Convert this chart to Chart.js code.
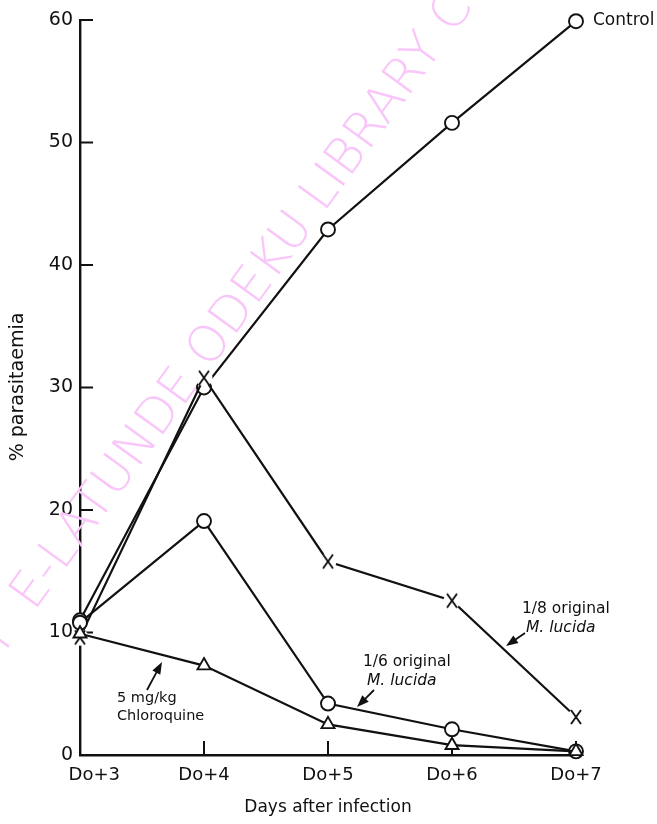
<!DOCTYPE html>
<html>
<head>
<meta charset="utf-8">
<script src="https://cdn.jsdelivr.net/npm/chart.js@4.4.1/dist/chart.umd.min.js"></script>
<style>
  html, body { margin: 0; padding: 0; background: #fff; }
  #wrap { width: 657px; height: 824px; }
</style>
</head>
<body>
<div id="wrap"><canvas id="chart" width="657" height="824"></canvas></div>
<script>
const days = ['Do+3', 'Do+4', 'Do+5', 'Do+6', 'Do+7'];
const control = [11.0, 30.0, 42.9, 51.6, 59.9];
const lucidaEighth = [9.6, 30.8, 15.8, 12.6, 3.1];
const lucidaSixth = [10.8, 19.1, 4.2, 2.1, 0.3];
const chloroquine = [9.9, 7.3, 2.5, 0.8, 0.3];
const yTicks = [0, 10, 20, 30, 40, 50, 60];

const FONT = '"DejaVu Sans", "Liberation Sans", sans-serif';

// X marker with a white halo so the line stops short of it
function makeCross() {
  const c = document.createElement('canvas');
  c.width = 18; c.height = 18;
  const g = c.getContext('2d');
  g.fillStyle = '#fff';
  g.beginPath(); g.arc(9, 9, 8.5, 0, Math.PI * 2); g.fill();
  g.strokeStyle = '#111'; g.lineWidth = 1.9;
  g.beginPath();
  g.moveTo(4, 2); g.lineTo(14, 16);
  g.moveTo(14, 2); g.lineTo(4, 16);
  g.stroke();
  return c;
}

function arrow(ctx, x1, y1, x2, y2) {
  const a = Math.atan2(y2 - y1, x2 - x1);
  ctx.beginPath();
  ctx.moveTo(x1, y1); ctx.lineTo(x2 - 8 * Math.cos(a), y2 - 8 * Math.sin(a));
  ctx.stroke();
  ctx.beginPath();
  ctx.moveTo(x2, y2);
  ctx.lineTo(x2 - 12 * Math.cos(a) + 4.5 * Math.sin(a), y2 - 12 * Math.sin(a) - 4.5 * Math.cos(a));
  ctx.lineTo(x2 - 12 * Math.cos(a) - 4.5 * Math.sin(a), y2 - 12 * Math.sin(a) + 4.5 * Math.cos(a));
  ctx.closePath();
  ctx.fill();
}

const decor = {
  id: 'decor',
  beforeDatasetsDraw(chart) {
    const ctx = chart.ctx;
    ctx.save();
    ctx.translate(34, 612);
    ctx.rotate(-54 * Math.PI / 180);
    ctx.fillStyle = '#f9c6f9';
    ctx.font = '300 50px ' + FONT;
    ctx.textBaseline = 'alphabetic';
    ctx.fillText('E-LATUNDE ODEKU LIBRARY COLLEGE', 0, 0);
    ctx.fillText('Y', -58, 0);
    ctx.restore();

    // inward tick marks
    const xs = chart.scales.x, ys = chart.scales.y;
    ctx.save();
    ctx.strokeStyle = '#111'; ctx.lineWidth = 2;
    ctx.beginPath();
    yTicks.slice(1).forEach(v => {
      const py = ys.getPixelForValue(v);
      ctx.moveTo(xs.left, py); ctx.lineTo(xs.left + 13, py);
    });
    days.slice(1).forEach((d, i) => {
      const px = xs.getPixelForValue(i + 1);
      ctx.moveTo(px, ys.bottom); ctx.lineTo(px, ys.bottom - 14);
    });
    ctx.stroke();
    ctx.restore();
  },
  afterDraw(chart) {
    const ctx = chart.ctx;
    ctx.save();
    ctx.fillStyle = '#111'; ctx.strokeStyle = '#111'; ctx.lineWidth = 1.8;
    ctx.textBaseline = 'middle';

    // axis titles
    ctx.font = '17px ' + FONT;
    ctx.textAlign = 'center';
    ctx.fillText('Days after infection', 328, 808);
    ctx.save();
    ctx.translate(18, 387);
    ctx.rotate(-Math.PI / 2);
    ctx.font = '19px ' + FONT;
    ctx.fillText('% parasitaemia', 0, 0);
    ctx.restore();

    // series labels
    ctx.textAlign = 'left';
    ctx.font = '17px ' + FONT;
    ctx.fillText('Control', 593, 21);

    ctx.font = '15.5px ' + FONT;
    ctx.fillText('1/8 original', 522, 609);
    ctx.font = 'italic 15.5px ' + FONT;
    ctx.fillText('M. lucida', 526, 628);
    arrow(ctx, 525, 633, 506, 646);

    ctx.font = '15.5px ' + FONT;
    ctx.fillText('1/6 original', 363, 662);
    ctx.font = 'italic 15.5px ' + FONT;
    ctx.fillText('M. lucida', 367, 681);
    arrow(ctx, 374, 690, 357, 707);

    ctx.font = '14.5px ' + FONT;
    ctx.fillText('5 mg/kg', 117, 698);
    ctx.fillText('Chloroquine', 117, 716);
    arrow(ctx, 147, 690, 162, 662);
    ctx.restore();
  }
};

const crossImg = makeCross();

function series(label, data, style, extra) {
  return Object.assign({
    label: label,
    data: data,
    borderColor: '#111',
    borderWidth: 2.2,
    pointStyle: style,
    pointRadius: 7,
    pointBorderWidth: 1.9,
    pointBackgroundColor: '#fff',
    pointBorderColor: '#111',
    tension: 0,
    fill: false,
    clip: false
  }, extra || {});
}

new Chart(document.getElementById('chart'), {
  type: 'line',
  data: {
    labels: days,
    datasets: [
      series('Chloroquine', chloroquine, 'triangle', { pointRadius: 7.5 }),
      series('1/6 original M. lucida', lucidaSixth, 'circle'),
      series('1/8 original M. lucida', lucidaEighth, crossImg),
      series('Control', control, 'circle')
    ]
  },
  options: {
    responsive: false,
    animation: false,
    layout: { padding: { top: 20, right: 81, left: 0, bottom: 0 } },
    plugins: { legend: { display: false }, tooltip: { enabled: false } },
    scales: {
      x: {
        type: 'category',
        offset: false,
        grid: { display: false, drawTicks: false },
        border: { display: true, color: '#111', width: 2.4 },
        ticks: {
          color: '#111', font: { family: FONT, size: 18 }, padding: 10, maxRotation: 0,
          // first label sits a little right of the axis corner
          callback(v, i) { return i === 0 ? '     ' + days[i] : days[i]; }
        },
        afterFit(scale) { scale.height = 69; }
      },
      y: {
        min: 0, max: 60,
        grid: { display: false, drawTicks: false },
        border: { display: true, color: '#111', width: 2.4 },
        afterBuildTicks(scale) { scale.ticks = yTicks.map(v => ({ value: v })); },
        ticks: { color: '#111', font: { family: FONT, size: 19 }, padding: 7 },
        afterFit(scale) { scale.width = 80; }
      }
    }
  },
  plugins: [decor]
});
</script>
</body>
</html>
